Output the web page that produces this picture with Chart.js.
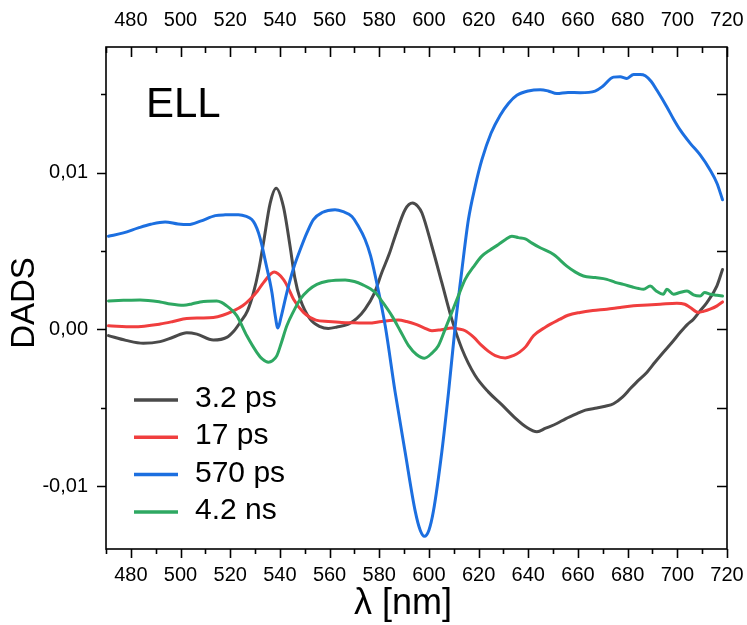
<!DOCTYPE html>
<html><head><meta charset="utf-8">
<script src="https://cdn.jsdelivr.net/npm/chart.js@4/dist/chart.umd.min.js"></script>
<style>html,body{margin:0;padding:0;background:#fff}#wrap{width:747px;height:625px;position:relative}</style>
</head><body><div id="wrap"><canvas id="c" width="747" height="625"></canvas></div>
<script>
const seriesLabels = ['3.2 ps', '17 ps', '570 ps', '4.2 ns'];
const seriesColors = ['#4a4a4a', '#f03e3e', '#1c6fe0', '#2ea862'];
const panelLabel = 'ELL';
const xTitle = 'λ [nm]';
const yTitle = 'DADS';
const xTicks = [480, 500, 520, 540, 560, 580, 600, 620, 640, 660, 680, 700, 720];
const yTicks = [-0.01, 0, 0.01];
const xMinorTicks = [470, 490, 510, 530, 550, 570, 590, 610, 630, 650, 670, 690, 710];
const yMinorTicks = [-0.005, 0.005, 0.015];

// 3.2 ps (values in units of 1e-3)
const wl_a = [471,478,485,491.8,497,502.5,506.6,513.2,518.6,521.5,524,527,529.4,531.5,533.4,536.1,538.5,541.4,544.1,546,548.2,552.2,556.2,559.5,563,567.6,571,574.3,578,581,584,586.4,590.4,593.4,595.5,597.2,601.2,605.2,609.2,613.3,618.6,624,629,635,639,643.5,647,651.5,655,659.6,663,667.6,671,674.3,678,681,684,687.8,691,694.4,698,701.2,704,706.5,709,711.9,715.9,718.2];
const dads_a = [-0.40,-0.70,-0.89,-0.78,-0.50,-0.21,-0.30,-0.68,-0.51,-0.10,0.44,1.20,2.35,3.80,5.52,8.05,9.0,7.84,5.3,3.3,1.92,0.65,0.17,0.06,0.15,0.34,0.70,1.29,2.30,3.61,4.80,5.94,7.63,8.05,7.85,7.42,5.3,2.98,0.65,-1.25,-2.94,-4.0,-4.75,-5.69,-6.21,-6.53,-6.3,-6.0,-5.7,-5.37,-5.15,-5.01,-4.9,-4.74,-4.3,-3.79,-3.3,-2.73,-2.1,-1.46,-0.8,-0.19,0.3,0.65,1.15,1.71,2.76,3.82];

// 17 ps
const wl_b = [471,481,491.8,497,502.5,508,513.2,517,521.3,525,528,531,533.4,537.7,541.4,543.5,545.5,549.5,554.5,559.5,564.9,570,575.7,581,587.7,591,594.5,598,601.2,605,609.2,612,614.6,618,621.3,624,626.7,630.7,634,636.5,639,642.1,647,652.8,656,660.9,666,671.6,677,682.4,688,693.1,699.8,703,705.2,708.5,710.5,713.2,716,718.2];
const dads_b = [0.23,0.17,0.34,0.50,0.70,0.73,0.76,0.90,1.18,1.50,1.92,2.45,2.98,3.65,3.19,2.6,1.92,1.08,0.59,0.50,0.44,0.42,0.40,0.50,0.59,0.50,0.34,0.10,-0.09,-0.02,0.08,0.02,-0.09,-0.50,-1.04,-1.40,-1.67,-1.82,-1.67,-1.45,-1.10,-0.41,0.15,0.65,0.90,1.08,1.20,1.29,1.40,1.50,1.55,1.60,1.67,1.60,1.39,1.08,1.15,1.29,1.50,1.75];

// 570 ps
const wl_c = [471,477,483,488,493.8,499,503.2,508,514,518,523.3,526.5,528.7,530,531.4,532.7,534,536.8,538,539.2,540.5,542.8,545.5,548.2,551,553.5,557,562.2,565.5,569,571.5,574.3,576.5,578.4,582.4,586.4,590.4,594.5,596.5,598.2,600,601.8,605.2,607.9,610.6,613.3,615.9,618.6,621.3,625,628.7,632,635.4,640,644.8,648,651.5,656,660.9,666.9,670,674.3,677,679.7,682.4,685,687.1,689.5,691.8,695.8,698.5,701.2,705.2,709.2,713.2,716,718.2];
const dads_c = [5.94,6.15,6.47,6.70,6.85,6.72,6.68,6.90,7.25,7.30,7.31,7.20,7.0,6.70,6.15,5.40,4.46,2.35,1.0,0.08,0.8,2.35,3.9,5.09,6.2,7.0,7.45,7.63,7.50,7.2,6.6,5.73,4.70,3.4,0.23,-4.0,-7.8,-11.6,-12.8,-13.19,-12.8,-11.6,-7.8,-4.0,0.23,3.82,7.0,9.1,10.8,12.5,13.65,14.4,14.92,15.2,15.28,15.2,15.03,15.1,15.09,15.19,15.5,16.08,16.1,16.0,16.25,16.25,16.17,15.8,15.24,14.18,13.4,12.7,11.86,11.12,10.16,9.3,8.26];

// 4.2 ns
const wl_d = [471,477,483.7,491.8,496,501.2,504.5,507.9,514.6,516.5,518.6,520.5,522.7,526.7,530.7,533,535.4,537,538.8,540.5,542.8,545.5,548.2,551.5,554.9,559.5,566.3,570,573,578.4,581.5,585.1,588.5,591.8,595,598.2,601,603.8,606.5,609.2,612,614.6,618,621.3,624.5,628,631,633.4,636,638.8,641.5,644.8,650.2,655.5,659,662.2,667,671.6,675,678.3,682,684.5,686.4,689.1,691.5,694.4,695.8,698.5,701,703.9,706.5,709.2,711,713.2,716,718.2];
const dads_d = [1.81,1.85,1.88,1.75,1.62,1.54,1.62,1.75,1.81,1.72,1.50,1.25,0.86,-0.41,-1.46,-1.90,-2.09,-2.0,-1.67,-0.9,0.23,1.15,1.92,2.50,2.87,3.08,3.15,3.05,2.87,2.35,1.70,0.86,-0.10,-1.04,-1.60,-1.84,-1.55,-1.04,0.0,1.08,2.20,3.19,4.0,4.67,5.05,5.41,5.75,5.94,5.85,5.77,5.5,5.20,4.77,4.03,3.65,3.40,3.30,3.19,3.0,2.87,2.70,2.60,2.56,2.76,2.45,2.24,2.56,2.24,2.35,2.45,2.20,2.13,2.35,2.24,2.18,2.13];

const wls = [wl_a, wl_b, wl_c, wl_d];
const vals = [dads_a, dads_b, dads_c, dads_d];
const drawOrder = [4, 3, 2, 1];

const datasets = seriesLabels.map((lab, i) => ({
  label: lab,
  data: wls[i].map((x, j) => ({x: x, y: vals[i][j] * 1e-3})),
  borderColor: seriesColors[i],
  backgroundColor: seriesColors[i],
  borderWidth: 3,
  pointRadius: 0,
  fill: false,
  cubicInterpolationMode: 'monotone',
  order: drawOrder[i],
  xAxisID: 'x', yAxisID: 'y'
}));

const FONT = '"Liberation Sans", Arial, sans-serif';
const fmtY = v => (Math.abs(v) < 1e-9 ? '0,00' : (v < 0 ? '-' : '') + Math.abs(v).toFixed(2).replace('.', ','));
const noPadH = s => { s.paddingLeft = 0; s.paddingRight = 0; };
const noPadV = s => { s.paddingTop = 0; s.paddingBottom = 0; };

const framePlugin = {
  id: 'frame',
  afterDatasetsDraw(chart) {
    const {ctx, chartArea: a, scales} = chart;
    ctx.save();
    ctx.strokeStyle = '#000';
    ctx.lineWidth = 1.6;
    ctx.strokeRect(a.left, a.top, a.right - a.left, a.bottom - a.top);
    ctx.beginPath();
    const xs = scales.x, ys = scales.y;
    xTicks.forEach(v => { const p = Math.round(xs.getPixelForValue(v)) + 0.5;
      ctx.moveTo(p, a.bottom); ctx.lineTo(p, a.bottom + 9);
      ctx.moveTo(p, a.top); ctx.lineTo(p, a.top + 10); });
    xMinorTicks.forEach(v => { const p = Math.round(xs.getPixelForValue(v)) + 0.5;
      ctx.moveTo(p, a.bottom); ctx.lineTo(p, a.bottom + 5);
      ctx.moveTo(p, a.top); ctx.lineTo(p, a.top + 6); });
    yTicks.forEach(v => { const p = Math.round(ys.getPixelForValue(v)) + 0.5;
      ctx.moveTo(a.left - 9, p); ctx.lineTo(a.left, p);
      ctx.moveTo(a.right - 10, p); ctx.lineTo(a.right, p); });
    yMinorTicks.forEach(v => { const p = Math.round(ys.getPixelForValue(v)) + 0.5;
      ctx.moveTo(a.left - 5, p); ctx.lineTo(a.left, p);
      ctx.moveTo(a.right - 10, p); ctx.lineTo(a.right, p); });
    ctx.stroke();

    ctx.fillStyle = '#000';
    // axis titles
    ctx.font = '36px ' + FONT;
    ctx.textAlign = 'center';
    ctx.textBaseline = 'middle';
    ctx.fillText(xTitle, 403, 604);
    ctx.save();
    ctx.translate(25, 303);
    ctx.rotate(-Math.PI / 2);
    ctx.font = '33px ' + FONT;
    ctx.fillText(yTitle, 0, 0);
    ctx.restore();

    // panel label
    ctx.font = '42px ' + FONT;
    ctx.textBaseline = 'alphabetic';
    ctx.textAlign = 'left';
    ctx.fillText(panelLabel, 146, 117);

    // legend
    ctx.font = '30px ' + FONT;
    seriesLabels.forEach((lab, i) => {
      const y = 400 + i * 37.3;
      ctx.strokeStyle = seriesColors[i];
      ctx.lineWidth = 3.5;
      ctx.beginPath(); ctx.moveTo(134, y); ctx.lineTo(178, y); ctx.stroke();
      ctx.fillStyle = '#000';
      ctx.fillText(lab, 195, y + 7);
    });
    ctx.restore();
  }
};

new Chart(document.getElementById('c'), {
  type: 'line',
  data: {datasets},
  options: {
    responsive: false,
    animation: false,
    devicePixelRatio: 1,
    layout: {padding: 0},
    plugins: {legend: {display: false}, tooltip: {enabled: false}},
    elements: {line: {borderCapStyle: 'round', borderJoinStyle: 'round'}},
    scales: {
      x: {
        type: 'linear', position: 'bottom', min: 470, max: 720,
        grid: {display: false, drawTicks: false}, border: {display: false},
        afterBuildTicks: s => { s.ticks = xTicks.map(v => ({value: v})); },
        ticks: {color: '#000', font: {family: FONT, size: 20}, padding: 14, maxRotation: 0, autoSkip: false, callback: v => String(v)},
        afterFit: s => { s.height = 76; noPadH(s); }
      },
      x2: {
        type: 'linear', position: 'top', min: 470, max: 720,
        grid: {display: false, drawTicks: false}, border: {display: false},
        afterBuildTicks: s => { s.ticks = xTicks.map(v => ({value: v})); },
        ticks: {color: '#000', font: {family: FONT, size: 20}, padding: 15, maxRotation: 0, autoSkip: false, callback: v => String(v)},
        afterFit: s => { s.height = 47; noPadH(s); }
      },
      y: {
        type: 'linear', position: 'left', min: -0.014, max: 0.018,
        grid: {display: false, drawTicks: false}, border: {display: false},
        afterBuildTicks: s => { s.ticks = yTicks.map(v => ({value: v})); },
        ticks: {color: '#000', font: {family: FONT, size: 20}, padding: 18, autoSkip: false, callback: v => fmtY(v)},
        afterFit: s => { s.width = 106; noPadV(s); }
      },
      y2: {
        type: 'linear', position: 'right', min: -0.014, max: 0.018,
        grid: {display: false, drawTicks: false}, border: {display: false},
        ticks: {display: false},
        afterFit: s => { s.width = 20; noPadV(s); }
      }
    }
  },
  plugins: [framePlugin]
});
</script>
</body></html>
